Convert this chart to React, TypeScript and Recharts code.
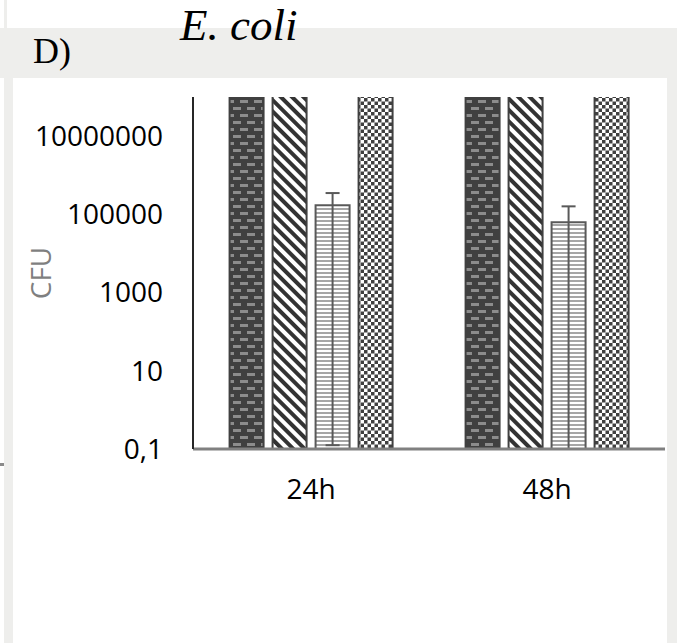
import React from 'react'
import { BarChart, Bar, XAxis, YAxis, ErrorBar } from 'recharts'

// timepoints on the x axis
const timepoints = ['24h', '48h']

// CFU per condition (bars 1, 2 and 4 run past the top of the axis)
const series1 = [1000000000, 1000000000]
const series2 = [1000000000, 1000000000]
const series3 = [170000, 63000]
const series4 = [1000000000, 1000000000]

// error bar extents for series 3 (lower, upper)
const series3ErrLow = [169999.875, 62999.9]
const series3ErrHigh = [180000, 97000]

const yTicks = [0.1, 10, 1000, 100000, 10000000]

const data = timepoints.map((t, i) => ({
  time: t,
  s1: series1[i],
  s2: series2[i],
  s3: series3[i],
  s4: series4[i],
  err3: [series3ErrLow[i], series3ErrHigh[i]],
}))

const GRAY = '#eeeeec'
const FONT = '"Open Sans", sans-serif'

export default function App() {
  return (
    <div style={{ position: 'absolute', left: 0, top: 0, width: 677, height: 643, background: '#fff', overflow: 'hidden' }}>
      {/* the page crop around the chart */}
      <div style={{ position: 'absolute', left: 0, top: 28, width: 677, height: 50, background: GRAY }} />
      <div style={{ position: 'absolute', left: 4, top: 0, width: 3, height: 28, background: GRAY }} />
      <div style={{ position: 'absolute', left: 4, top: 78, width: 9, height: 565, background: GRAY }} />
      <div style={{ position: 'absolute', left: 667, top: 78, width: 10, height: 565, background: GRAY }} />
      <div style={{ position: 'absolute', left: 0, top: 463, width: 4, height: 3, background: '#8a8a8a' }} />

      <svg width={677} height={643} style={{ position: 'absolute', left: 0, top: 0 }}>
        <text x={180} y={40} fontFamily='"Liberation Serif", serif' fontStyle="italic" fontSize={45} fill="#000">E. coli</text>
        <text x={33} y={63} fontFamily='"Liberation Serif", serif' fontSize={36} fill="#000">D)</text>
      </svg>

      <div style={{ position: 'absolute', left: 0, top: 0 }}>
        <BarChart
          width={677}
          height={643}
          data={data}
          margin={{ top: 97, right: 12, left: 0, bottom: 134 }}
          barCategoryGap="15.5%"
          barGap={9}
        >
          <defs>
            <pattern id="pDash" width={14} height={14} patternUnits="userSpaceOnUse">
              <rect width={14} height={14} fill="#404040" />
              <rect x={2} y={2} width={8} height={3} fill="#8c8c8c" />
              <rect x={9} y={9} width={5} height={3} fill="#8c8c8c" />
              <rect x={0} y={9} width={3} height={3} fill="#8c8c8c" />
            </pattern>
            <pattern id="pDiag" width={8} height={8} patternUnits="userSpaceOnUse" patternTransform="rotate(-45)">
              <rect width={8} height={8} fill="#fff" />
              <rect width={4} height={8} fill="#333" />
            </pattern>
            <pattern id="pHoriz" width={4} height={4} patternUnits="userSpaceOnUse">
              <rect width={4} height={4} fill="#fff" />
              <rect width={4} height={2} fill="#a6a6a6" />
            </pattern>
            <pattern id="pCheck" width={7} height={7} patternUnits="userSpaceOnUse">
              <rect width={7} height={7} fill="#fff" />
              <rect width={3.5} height={3.5} fill="#404040" />
              <rect x={3.5} y={3.5} width={3.5} height={3.5} fill="#404040" />
            </pattern>
          </defs>
          <XAxis
            dataKey="time"
            height={60}
            axisLine={{ stroke: '#808080', strokeWidth: 3 }}
            tickLine={false}
            tickSize={0}
            tickMargin={30}
            tick={{ fontSize: 28, fill: '#000', fontFamily: FONT }}
          />
          <YAxis
            scale="log"
            domain={[0.1, 100000000]}
            allowDataOverflow
            ticks={yTicks}
            interval={0}
            width={193}
            axisLine={{ stroke: '#262626', strokeWidth: 2 }}
            tickLine={false}
            tickSize={0}
            tickMargin={30}
            tick={{ fontSize: 28, fill: '#000', fontFamily: FONT }}
            tickFormatter={(v: number) => String(v).replace('.', ',')}
            label={{
              value: 'CFU',
              angle: -90,
              position: 'insideLeft',
              offset: 41,
              style: { textAnchor: 'middle', fontSize: 28, fill: '#7f7f7f', fontFamily: FONT },
            }}
          />
          <Bar dataKey="s1" fill="url(#pDash)" stroke="#404040" strokeWidth={2} isAnimationActive={false} />
          <Bar dataKey="s2" fill="url(#pDiag)" stroke="#404040" strokeWidth={2} isAnimationActive={false} />
          <Bar dataKey="s3" fill="url(#pHoriz)" stroke="#595959" strokeWidth={2} isAnimationActive={false}>
            <ErrorBar dataKey="err3" direction="y" width={7} stroke="#595959" strokeWidth={2} isAnimationActive={false} />
          </Bar>
          <Bar dataKey="s4" fill="url(#pCheck)" stroke="#404040" strokeWidth={2} isAnimationActive={false} />
        </BarChart>
      </div>
    </div>
  )
}
